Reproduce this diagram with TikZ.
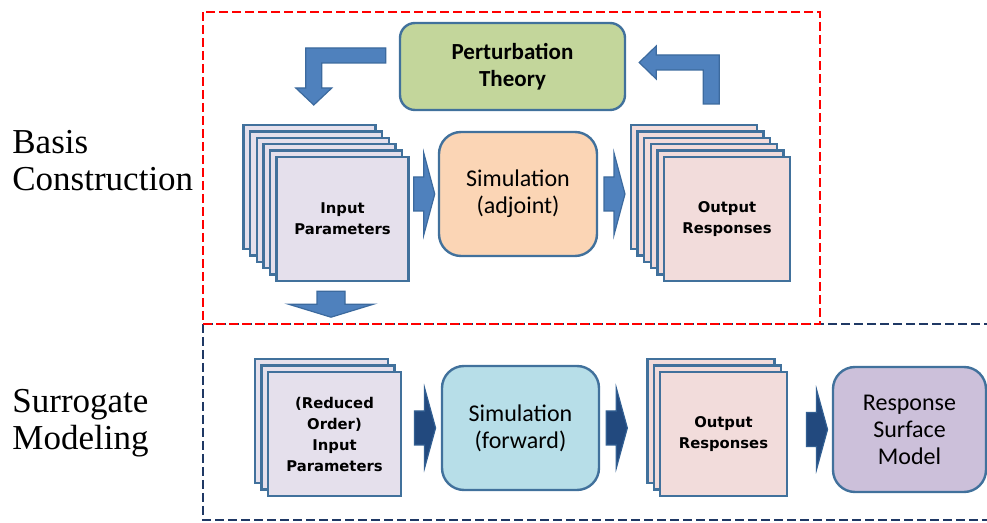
\documentclass[tikz,border=0pt]{standalone}
\usepackage{fontspec}
\setmainfont{Liberation Serif}
\newfontfamily\carlito{Carlito}
\newfontfamily\dejavu{DejaVu Sans}
\usetikzlibrary{calc}

\definecolor{cardline}{HTML}{41719C}
\definecolor{infill}{HTML}{E5E0EC}
\definecolor{outfill}{HTML}{F2DCDB}
\definecolor{ptfill}{HTML}{C3D69B}
\definecolor{adjfill}{HTML}{FBD5B5}
\definecolor{fwdfill}{HTML}{B7DEE8}
\definecolor{rsmfill}{HTML}{CCC0DA}
\definecolor{arrfill}{HTML}{4F81BD}
\definecolor{arrline}{HTML}{3C6A9E}
\definecolor{darkfill}{HTML}{22497E}
\definecolor{darkline}{HTML}{325F92}
\definecolor{navybox}{HTML}{1F3864}

\begin{document}
\begin{tikzpicture}[x=0.5pt,y=-0.5pt]
\tikzstyle{card}=[draw=cardline,line width=1.2pt,minimum width=66pt,minimum height=62pt,inner sep=0pt,align=center,font=\dejavu\bfseries\fontsize{7.4}{10.5}\selectfont];
\tikzstyle{proc}=[draw=cardline,line width=1.2pt,rounded corners=11pt,inner sep=0pt,align=center,font=\carlito\fontsize{12}{13.5}\selectfont];
\tikzstyle{lbl}=[anchor=west,inner sep=0pt,align=left,font=\fontsize{17.5}{18.5}\selectfont];
\tikzstyle{blk}=[fill=arrfill,draw=arrline,line width=0.6pt,line join=miter];
\tikzstyle{dblk}=[fill=darkfill,draw=darkline,line width=0.6pt,line join=miter];
\useasboundingbox (0,0) rectangle (987,523);

% section frames
\draw [navybox,line width=1.3pt,dash pattern=on 4.5pt off 2pt] (203,324) rectangle (1000,520);
\draw [red,line width=1.4pt,dash pattern=on 4.5pt off 2pt] (203,12) rectangle (820,324);
\node [lbl] (basis) at (12,161) {Basis\\Construction};
\node [lbl] (surr) at (12,423) {Surrogate\\Modeling};

% basis construction
\node [proc,fill=ptfill,rounded corners=7.5pt,minimum width=112.5pt,minimum height=43.5pt,font=\carlito\bfseries\fontsize{11.5}{13.5}\selectfont] (pt) at (512.5,66.5) {Perturbation\\Theory};

\node [card,fill=infill] (inp1) at (309.5,187) {};
\node [card,fill=infill] (inp2) at (316.1,193.4) {};
\node [card,fill=infill] (inp3) at (322.7,199.8) {};
\node [card,fill=infill] (inp4) at (329.3,206.2) {};
\node [card,fill=infill] (inp5) at (335.9,212.6) {};
\node [card,fill=infill] (inp6) at (342.5,219) {Input\\Parameters};

\node [proc,fill=adjfill,minimum width=79pt,minimum height=62pt] (sima) at (518,194) {Simulation\\(adjoint)};

\node [card,fill=outfill,minimum width=63pt] (out1) at (694,187) {};
\node [card,fill=outfill,minimum width=63pt] (out2) at (700.6,193.4) {};
\node [card,fill=outfill,minimum width=63pt] (out3) at (707.2,199.8) {};
\node [card,fill=outfill,minimum width=63pt] (out4) at (713.8,206.2) {};
\node [card,fill=outfill,minimum width=63pt] (out5) at (720.4,212.6) {};
\node [card,fill=outfill,minimum width=63pt] (out6) at (727,219) {Output\\Responses};

\coordinate (a1) at ($(inp6.east |- sima.west)!0.5!(sima.west)$);
\coordinate (a2) at ($(sima.east)!0.5!(sima.east -| out1.west)$);
\coordinate (down) at ($(inp6.south)+(-11.5,22)$);
\draw [blk,shift={(a1)}] (-10,-17) -- (0,-17) -- (0,-41) -- (11,0) -- (0,41) -- (0,17) -- (-10,17) -- cycle;
\draw [blk,shift={(a2)}] (-10,-17) -- (0,-17) -- (0,-41) -- (11,0) -- (0,41) -- (0,17) -- (-10,17) -- cycle;
\draw [blk,shift={(pt.west)}] (-13,-18.5) -- (-93,-18.5) -- (-93,21.5) -- (-103,21.5) -- (-85,38.5) -- (-67,21.5) -- (-77,21.5) -- (-77,-3.5) -- (-13,-3.5) -- cycle;
\draw [blk,shift={(pt.east)}] (93,37.5) -- (93,-11.5) -- (30,-11.5) -- (30,-20.5) -- (13,-4) -- (30,12.5) -- (30,3.5) -- (77,3.5) -- (77,37.5) -- cycle;
\draw [blk,shift={(down)}] (-14,-13) -- (14,-13) -- (14,0) -- (42.5,0) -- (0,13) -- (-42.5,0) -- (-14,0) -- cycle;

% surrogate modeling
\node [card,fill=infill,minimum width=66.5pt] (red1) at (321.5,421) {};
\node [card,fill=infill,minimum width=66.5pt] (red2) at (328,427.5) {};
\node [card,fill=infill,minimum width=66.5pt] (red3) at (334.5,434) {(Reduced\\Order)\\Input\\Parameters};

\node [proc,fill=fwdfill,minimum width=78.5pt,minimum height=62pt] (simf) at (520.5,428) {Simulation\\(forward)};

\node [card,fill=outfill,minimum width=63.5pt] (outb1) at (711,421) {};
\node [card,fill=outfill,minimum width=63.5pt] (outb2) at (717.25,427.5) {};
\node [card,fill=outfill,minimum width=63.5pt] (outb3) at (723.5,434) {Output\\Responses};

\node [proc,fill=rsmfill,minimum width=76.5pt,minimum height=62.5pt] (rsm) at (909.5,429.5) {Response\\Surface\\Model};

\coordinate (a3) at ($(red3.east |- simf.west)!0.58!(simf.west)$);
\coordinate (a4) at ($(simf.east)!0.35!(simf.east -| outb1.west)$);
\coordinate (a5) at ($(outb3.east |- rsm.west)!0.65!(rsm.west)$);
\draw [dblk,shift={(a3)}] (-10,-17) -- (0,-17) -- (0,-40) -- (11,0) -- (0,40) -- (0,17) -- (-10,17) -- cycle;
\draw [dblk,shift={(a4)}] (-10,-17) -- (0,-17) -- (0,-40) -- (11,0) -- (0,40) -- (0,17) -- (-10,17) -- cycle;
\draw [dblk,shift={(a5)}] (-10,-17) -- (0,-17) -- (0,-40) -- (11,0) -- (0,40) -- (0,17) -- (-10,17) -- cycle;
\end{tikzpicture}
\end{document}
